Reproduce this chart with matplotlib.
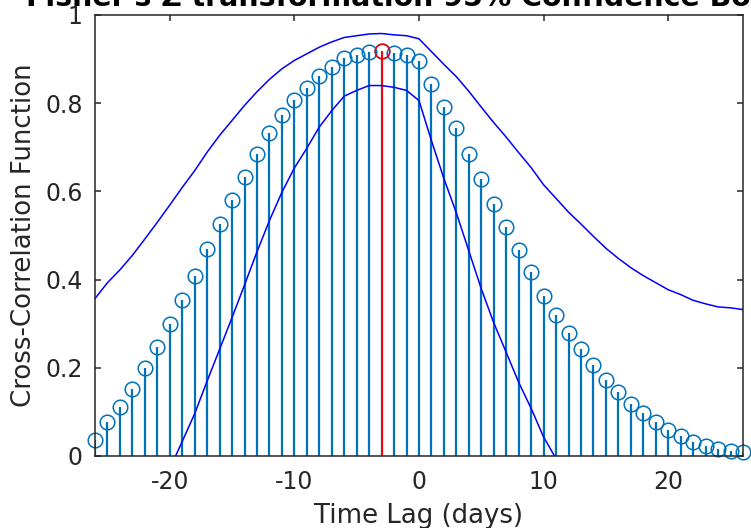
import numpy as np
import matplotlib
matplotlib.use("Agg")
import matplotlib.pyplot as plt

plt.rcParams["axes.unicode_minus"] = False

# ---- data ----
lags = list(range(-26, 27))
ccf = [0.036, 0.078, 0.112, 0.153, 0.199, 0.248, 0.299, 0.354, 0.408, 0.469,
       0.526, 0.580, 0.633, 0.685, 0.732, 0.773, 0.807, 0.834, 0.862, 0.883,
       0.902, 0.909, 0.916, 0.919, 0.913, 0.909, 0.896, 0.844, 0.791, 0.743,
       0.685, 0.627, 0.571, 0.520, 0.467, 0.418, 0.363, 0.320, 0.278, 0.242,
       0.206, 0.172, 0.144, 0.118, 0.097, 0.078, 0.059, 0.046, 0.032, 0.023,
       0.015, 0.012, 0.008]
upper = [0.357, 0.393, 0.422, 0.455, 0.492, 0.530, 0.569, 0.609, 0.647, 0.689,
         0.727, 0.761, 0.795, 0.826, 0.854, 0.878, 0.897, 0.912, 0.927, 0.939,
         0.949, 0.953, 0.957, 0.958, 0.955, 0.953, 0.946, 0.917, 0.888, 0.860,
         0.827, 0.791, 0.756, 0.723, 0.688, 0.654, 0.615, 0.584, 0.553, 0.526,
         0.498, 0.471, 0.448, 0.427, 0.409, 0.393, 0.377, 0.366, 0.353, 0.345,
         0.338, 0.336, 0.332]
lower_lags = list(range(-20, 12))
lower = [-0.029, 0.033, 0.096, 0.170, 0.242, 0.314, 0.388, 0.463, 0.534, 0.598,
         0.653, 0.698, 0.746, 0.783, 0.816, 0.829, 0.840, 0.840, 0.836, 0.829,
         0.806, 0.715, 0.629, 0.551, 0.465, 0.379, 0.302, 0.235, 0.167, 0.108,
         0.043, -0.006]
max_lag = -3
max_val = 0.919

xticks = [-20, -10, 0, 10, 20]
yticks = [0, 0.2, 0.4, 0.6, 0.8, 1.0]
ytick_labels = ["0", "0.2", "0.4", "0.6", "0.8", "1"]

title = "Fisher's Z transformation 95% Confidence Bounds"
xlabel = "Time Lag (days)"
ylabel = "Cross-Correlation Function"

# ---- style ----
stem_color = (0, 0.447, 0.741)
axis_color = "#262626"

fig = plt.figure(figsize=(7.51, 5.28), dpi=100)
ax = fig.add_axes([0.1265, 0.1364, 0.8628, 0.8352])

ax.vlines(lags, 0, ccf, colors=[stem_color], linewidth=1.6, zorder=2)
ax.plot(lags, ccf, linestyle="none", marker="o", markersize=10.5,
        markerfacecolor="none", markeredgecolor=stem_color,
        markeredgewidth=1.1, clip_on=False, zorder=3)

ax.vlines([max_lag], 0, [max_val], colors="red", linewidth=1.4, zorder=4)
ax.plot([max_lag], [max_val], linestyle="none", marker="o", markersize=10.5,
        markerfacecolor="none", markeredgecolor="red", markeredgewidth=1.1,
        clip_on=False, zorder=5)

ax.plot(lags, upper, color="blue", linewidth=1.1, zorder=4)
ax.plot(lower_lags, lower, color="blue", linewidth=1.1, zorder=4)

ax.set_xlim(-26, 26)
ax.set_ylim(0, 1)
ax.set_xticks(xticks)
ax.set_yticks(yticks)
ax.set_yticklabels(ytick_labels)

for s in ax.spines.values():
    s.set_color(axis_color)
    s.set_linewidth(1.1)
    s.set_zorder(6)

ax.tick_params(direction="in", top=True, right=True, length=4, width=1.1,
               colors=axis_color, labelsize=17)
ax.tick_params(axis="x", pad=10)
ax.tick_params(axis="y", pad=9)

ax.set_xlabel(xlabel, fontsize=18.7, color=axis_color)
ax.set_ylabel(ylabel, fontsize=18.7, color=axis_color)
ax.xaxis.set_label_coords(0.5, -0.107)
ax.yaxis.set_label_coords(-0.09, 0.5)

fig.text(0.5687, 1 - 6 / 528, title, ha="center", va="baseline",
         fontsize=20.4, fontweight="bold", color="black")

fig.savefig("out.png", dpi=100)
